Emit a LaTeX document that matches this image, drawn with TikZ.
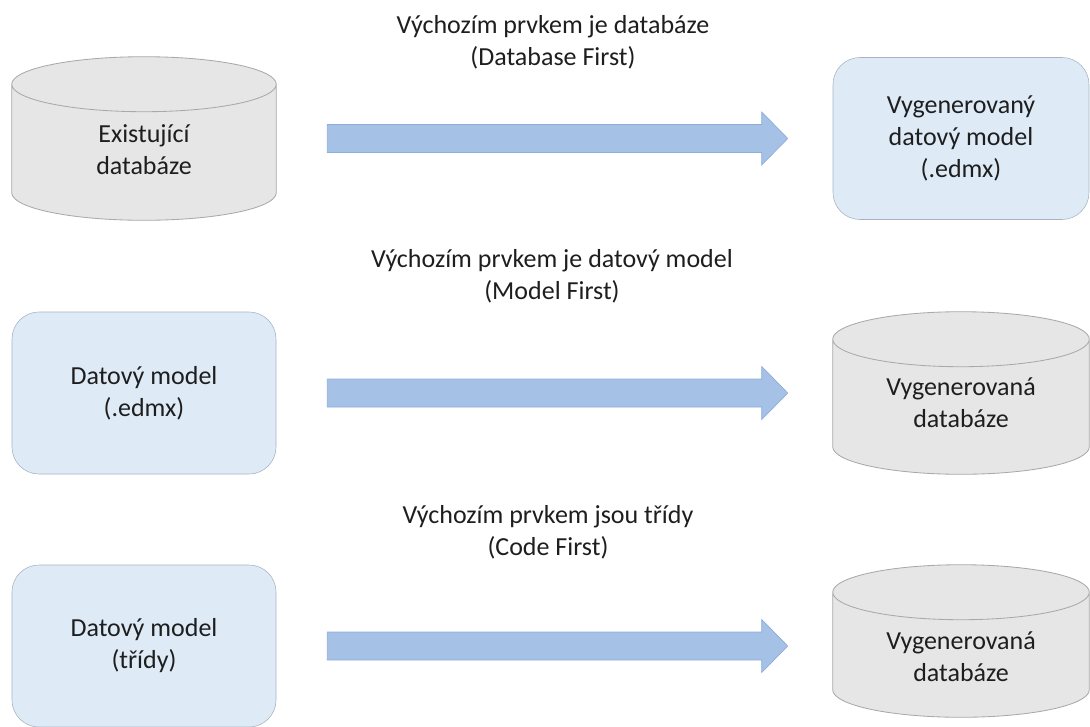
\documentclass[tikz,border=0pt]{standalone}
\usepackage{fontspec}
\setmainfont{Carlito}
\usepackage{tikz}
\usetikzlibrary{calc,backgrounds}
\definecolor{sedapln}{HTML}{E7E6E6}
\definecolor{sedaobr}{HTML}{A9A9A9}
\definecolor{modrapln}{HTML}{DEEBF7}
\definecolor{modraobr}{HTML}{A7B3C2}
\definecolor{sipkapln}{HTML}{A5C1E6}
\definecolor{sipkaobr}{HTML}{8EADDA}
\definecolor{text}{HTML}{1E1E1E}

% blokova sipka od uzlu #1 k uzlu #2
\newcommand\sipka[2]{%
  \path[sipka] let \p1=($(#1.east)+(1.275,0)$), \p2=($(#2.west)+(-1.125,0)$) in
    (\x1,\y1+0.35cm) -- (\x2-0.65cm,\y1+0.35cm) -- (\x2-0.65cm,\y1+0.6625cm)
    -- (\x2,\y1) -- (\x2-0.65cm,\y1-0.6625cm) -- (\x2-0.65cm,\y1-0.35cm)
    -- (\x1,\y1-0.35cm) -- cycle;}
% valec (databaze) kolem uzlu #1
\newcommand\valec[1]{%
  \begin{scope}[on background layer]
  \path[valec] let \p1=(#1.north west), \p2=(#1.south east), \n1={(\x2-\x1)/2} in
    (\x1,\y1-0.6875cm) -- (\x1,\y2+0.6875cm)
    arc[start angle=180,end angle=360,x radius=\n1,y radius=0.6875cm]
    -- (\x2,\y1-0.6875cm)
    arc[start angle=0,end angle=180,x radius=\n1,y radius=0.6875cm] -- cycle
    (\x1,\y1-0.6875cm) arc[start angle=180,end angle=360,x radius=\n1,y radius=0.6875cm];
  \end{scope}}

\begin{document}
\begin{tikzpicture}[
  db/.style={inner sep=0pt,minimum width=6.4cm,minimum height=4.05cm},
  valec/.style={draw=sedaobr,fill=sedapln,line width=0.6pt},
  n/.style={draw=modraobr,fill=modrapln,rounded corners=0.675cm,font=\fontsize{18.5}{22.7}\selectfont,text=text,align=center,minimum width=6.6cm,minimum height=4.05cm},
  popis/.style={font=\fontsize{18.5}{22.7}\selectfont,text=text,align=center,inner sep=0pt},
  sipka/.style={fill=sipkapln,draw=sipkaobr,line width=0.5pt}]
  \useasboundingbox (0,0) rectangle (27.25,-18.15);
  % ---- 1. Database First
  \node[db,minimum width=6.6cm,minimum height=4.075cm,label={[popis,yshift=-0.29cm]center:{Existující\\databáze}}] (exist) at (3.6,-3.4625) {};
  \valec{exist}
  \node[n,minimum width=6.4cm] (genmodel) at (24.025,-3.4625) {Vygenerovaný\\datový model\\(.edmx)};
  \node[popis] (p1) at (13.825,-1.0625) {Výchozím prvkem je databáze\\(Database First)};
  \sipka{exist}{genmodel}
  % ---- 2. Model First
  \node[n] (model) at (3.6,-9.825) {Datový model\\(.edmx)};
  \node[db,label={[popis,yshift=-0.25cm]center:{Vygenerovaná\\databáze}}] (gendb1) at (24.025,-9.825) {};
  \valec{gendb1}
  \node[popis] (p2) at (13.8,-6.9) {Výchozím prvkem je datový model\\(Model First)};
  \sipka{model}{gendb1}
  % ---- 3. Code First
  \node[n] (tridy) at (3.6,-16.15) {Datový model\\(třídy)};
  \node[db,minimum height=3.8cm,label={[popis,yshift=-0.4cm]center:{Vygenerovaná\\databáze}}] (gendb2) at (24.025,-16.025) {};
  \valec{gendb2}
  \node[popis] (p3) at (13.7,-13.3) {Výchozím prvkem jsou třídy\\(Code First)};
  \sipka{tridy}{gendb2}
\end{tikzpicture}
\end{document}
